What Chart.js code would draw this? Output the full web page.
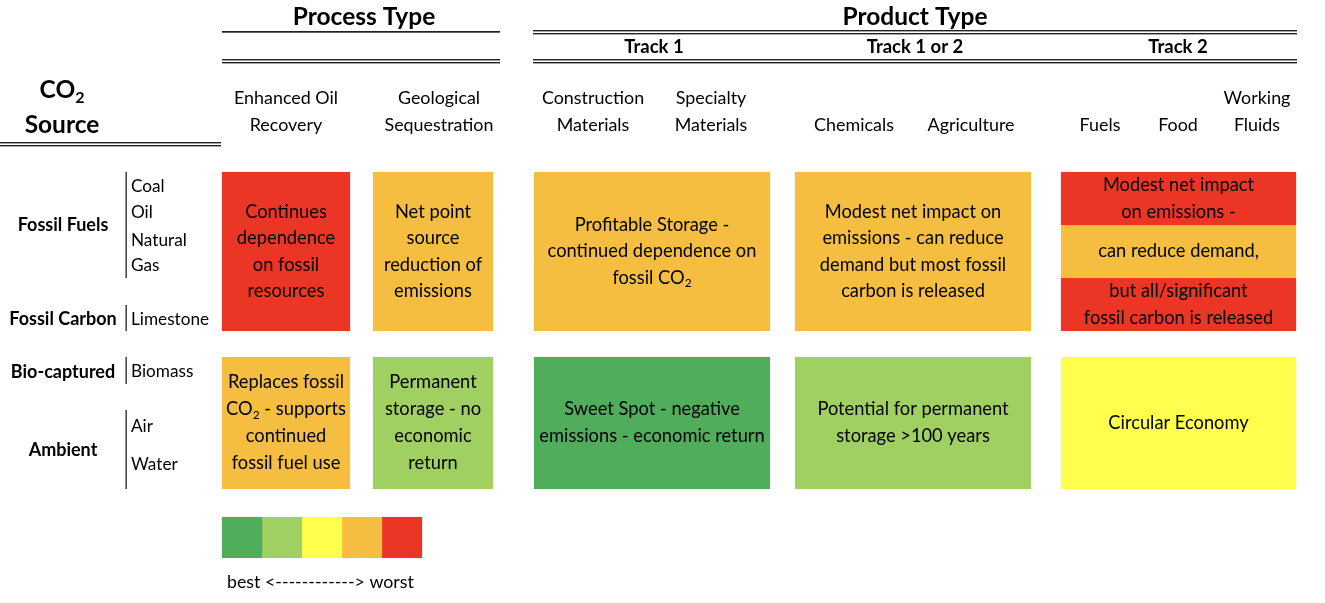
<!DOCTYPE html>
<html>
<head>
<meta charset="utf-8">
<script src="https://cdn.jsdelivr.net/npm/chart.js@4"></script>
<style>
  html, body { margin: 0; padding: 0; background: #fff; }
  canvas { display: block; }
</style>
</head>
<body>
<canvas id="chart" width="1325" height="603"></canvas>
<script>
// Scores run 1 (best) .. 5 (worst)
const scoreLabels = ['best', '', '', '', 'worst'];
const scoreColors = ['#50AD5B', '#A0D062', '#FFFF4D', '#F5BE41', '#EC3625'];

const useGroups = ['Process Type', 'Product Type'];
const tracks = ['Track 1', 'Track 1 or 2', 'Track 2'];
const uses = ['Enhanced Oil\nRecovery', 'Geological\nSequestration', 'Construction\nMaterials', 'Specialty\nMaterials',
  'Chemicals', 'Agriculture', 'Fuels', 'Food', 'Working\nFluids'];

const sourceGroups = ['Fossil Fuels', 'Fossil Carbon', 'Bio-captured', 'Ambient'];
const sources = [['Coal', 'Oil', 'Natural', 'Gas'], ['Limestone'], ['Biomass'], ['Air', 'Water']];

// score per cell column (EOR, Geological, Track 1, Track 1 or 2, Track 2)
const fossilScores = [5, 4, 4, 4, null];
const track2FossilScores = [5, 4, 5];
const nonFossilScores = [4, 2, 1, 2, 3];

const fossilTexts = [
  'Continues\ndependence\non fossil\nresources',
  'Net point\nsource\nreduction of\nemissions',
  'Profitable Storage -\ncontinued dependence on\nfossil CO₂',
  'Modest net impact on\nemissions - can reduce\ndemand but most fossil\ncarbon is released',
  null
];
const track2FossilTexts = ['Modest net impact\non emissions -', 'can reduce demand,', 'but all/significant\nfossil carbon is released'];
const nonFossilTexts = [
  'Replaces fossil\nCO₂ - supports\ncontinued\nfossil fuel use',
  'Permanent\nstorage - no\neconomic\nreturn',
  'Sweet Spot - negative\nemissions - economic return',
  'Potential for permanent\nstorage >100 years',
  'Circular Economy'
];

// ---- layout (axis units = pixels) ----
const cellCols = [[222, 350], [373, 493], [534, 770], [795, 1031], [1061, 1296]];
const fossilRow = [172, 331];
const nonFossilRow = [357, 489];
const track2Bands = [[172, 225], [225, 278], [278, 331]];
const legendX = 222, legendW = 40, legendRow = [517, 558];

const FONT = 'Lato, "Open Sans", sans-serif';
const CELL_SIZE = 18.3;

function cellSet(x0, x1, y0, y1, score) {
  const c = scoreColors[score - 1];
  return {
    data: [{ x: (x0 + x1) / 2, y: [y0, y1] }],
    backgroundColor: c,
    borderColor: c,
    borderWidth: 1,
    borderSkipped: false,
    barThickness: x1 - x0,
    grouped: false
  };
}

const datasets = [];
cellCols.forEach(([x0, x1], i) => {
  if (fossilScores[i] != null) {
    datasets.push(cellSet(x0, x1, fossilRow[0], fossilRow[1], fossilScores[i]));
  } else {
    track2FossilScores.forEach((s, k) => datasets.push(cellSet(x0, x1, track2Bands[k][0], track2Bands[k][1], s)));
  }
  datasets.push(cellSet(x0, x1, nonFossilRow[0], nonFossilRow[1], nonFossilScores[i]));
});
scoreColors.forEach((c, k) => {
  datasets.push(cellSet(legendX + k * legendW, legendX + (k + 1) * legendW, legendRow[0], legendRow[1], k + 1));
});

// draw text with "₂" as a real subscript
function richText(ctx, text, x, y, size, weight, align) {
  const parts = text.split('₂');
  const big = `${weight} ${size}px ${FONT}`;
  const small = `${weight} ${Math.round(size * 0.65)}px ${FONT}`;
  let w = 0;
  parts.forEach((p, i) => {
    ctx.font = big; w += ctx.measureText(p).width;
    if (i < parts.length - 1) { ctx.font = small; w += ctx.measureText('2').width; }
  });
  let cx = align === 'center' ? x - w / 2 : x;
  ctx.textAlign = 'left';
  ctx.textBaseline = 'middle';
  parts.forEach((p, i) => {
    ctx.font = big; ctx.fillText(p, cx, y); cx += ctx.measureText(p).width;
    if (i < parts.length - 1) {
      ctx.font = small; ctx.fillText('2', cx, y + size * 0.3); cx += ctx.measureText('2').width;
    }
  });
}

function block(ctx, text, x, yMid, size, lh, weight) {
  const lines = text.split('\n');
  const top = yMid - (lines.length - 1) * lh / 2;
  lines.forEach((l, i) => richText(ctx, l, x, top + i * lh, size, weight || 'normal', 'center'));
}

function hline(ctx, x0, x1, y, double) {
  ctx.fillStyle = '#222';
  if (double) {
    ctx.fillRect(x0, y - 2, x1 - x0, 1.4);
    ctx.fillRect(x0, y + 1, x1 - x0, 1.4);
  } else {
    ctx.fillRect(x0, y - 1, x1 - x0, 1.7);
  }
}

const tablePlugin = {
  id: 'tableText',
  afterDatasetsDraw(chart) {
    const ctx = chart.ctx;
    const sx = chart.scales.x, sy = chart.scales.y;
    const X = v => sx.getPixelForValue(v), Y = v => sy.getPixelForValue(v);
    ctx.save();
    ctx.fillStyle = '#000';

    // group headers
    richText(ctx, useGroups[0], X(364), Y(17), 24.5, 'bold', 'center');
    richText(ctx, useGroups[1], X(915), Y(17), 24.5, 'bold', 'center');
    [654, 915, 1178].forEach((cx, i) => richText(ctx, tracks[i], X(cx), Y(47), 18.5, 'bold', 'center'));
    hline(ctx, X(222), X(500), Y(32), false);
    hline(ctx, X(222), X(500), Y(61), true);
    hline(ctx, X(533), X(1297), Y(32), true);
    hline(ctx, X(533), X(1297), Y(61), true);
    hline(ctx, X(0), X(221), Y(144), true);
    ctx.fillStyle = '#000';

    // CO2 source header
    richText(ctx, 'CO₂', X(62), Y(90), 24.5, 'bold', 'center');
    richText(ctx, 'Source', X(62), Y(125), 24.5, 'bold', 'center');

    // use column headers, bottom line aligned
    const useX = [286, 439, 593, 711, 854, 971, 1100, 1178, 1257];
    uses.forEach((u, i) => {
      const lines = u.split('\n');
      lines.forEach((l, k) => richText(ctx, l, X(useX[i]), Y(125 - (lines.length - 1 - k) * 27), 17.9, 'normal', 'center'));
    });

    // source group labels + brackets
    const groupY = [225, 319, 372, 450];
    const bracket = [[172, 278], [305, 331], [357, 384], [410, 489]];
    const subY = [[186, 212, 240, 265], [319], [371], [426, 464]];
    sourceGroups.forEach((g, i) => {
      richText(ctx, g, X(63), Y(groupY[i]), 18, 'bold', 'center');
      ctx.fillStyle = '#222';
      ctx.fillRect(X(125.5), Y(bracket[i][0]), 1.3, Y(bracket[i][1]) - Y(bracket[i][0]));
      ctx.fillStyle = '#000';
      sources[i].forEach((s, k) => richText(ctx, s, X(131), Y(subY[i][k]), 17.2, 'normal', 'left'));
    });

    // cell texts
    cellCols.forEach(([x0, x1], i) => {
      const cx = X((x0 + x1) / 2);
      if (fossilTexts[i] != null) {
        block(ctx, fossilTexts[i], cx, Y((fossilRow[0] + fossilRow[1]) / 2), CELL_SIZE, 26.3);
      } else {
        track2FossilTexts.forEach((t, k) => block(ctx, t, cx, Y((track2Bands[k][0] + track2Bands[k][1]) / 2), CELL_SIZE, 26.3));
      }
      block(ctx, nonFossilTexts[i], cx, Y((nonFossilRow[0] + nonFossilRow[1]) / 2), CELL_SIZE, 27);
    });

    // legend caption
    richText(ctx, scoreLabels[0] + ' <------------> ' + scoreLabels[4], X(227), Y(582), 17.8, 'normal', 'left');
    ctx.restore();
  }
};

new Chart(document.getElementById('chart'), {
  type: 'bar',
  data: { datasets },
  options: {
    responsive: false,
    animation: false,
    layout: { padding: 0 },
    scales: {
      x: { type: 'linear', min: 0, max: 1325, offset: false, display: false },
      y: { type: 'linear', min: 0, max: 603, reverse: true, display: false }
    },
    plugins: { legend: { display: false }, tooltip: { enabled: false } }
  },
  plugins: [tablePlugin]
});
</script>
</body>
</html>
